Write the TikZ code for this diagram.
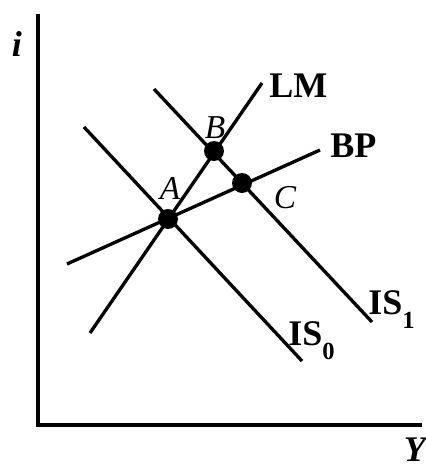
\documentclass[tikz,border=0pt]{standalone}
\usepackage{fontspec}
\setmainfont{Liberation Serif}
\usetikzlibrary{positioning}

\newcommand{\lowidx}[1]{\raisebox{-0.4em}{\fontsize{14}{14}\selectfont #1}}

\begin{document}
\begin{tikzpicture}[
    x=0.02cm, y=-0.02cm,
    curve/.style={line width=1.9pt},
    axis/.style={line width=1.9pt},
    dot/.style={circle, fill, inner sep=0pt, minimum size=0.4cm},
    lbl/.style={font=\fontsize{20.5}{24}\selectfont\bfseries, inner sep=0pt},
    ptlbl/.style={font=\fontsize{19}{22}\selectfont\itshape, inner sep=0pt}
]
\useasboundingbox (0,0) rectangle (426,468);

% axes
\coordinate (ytop) at (38,14);
\coordinate (origin) at (38,425);
\coordinate (xend) at (422,425);
\draw[axis] (ytop) -- (origin) -- (xend);
\node[lbl, font=\fontsize{20.5}{24}\selectfont\bfseries\itshape, anchor=base] (ilabel) at (17,56) {i};
\node[lbl, font=\fontsize{20.5}{24}\selectfont\bfseries\itshape, anchor=base] (ylabel) at (415,461) {Y};

% curves
\coordinate (lm1) at (90,333);
\coordinate (lm2) at (262,83);
\coordinate (bp1) at (67,264);
\coordinate (bp2) at (320,150);
\coordinate (is0a) at (84,127);
\coordinate (is0b) at (302,361);
\coordinate (is1a) at (154,89);
\coordinate (is1b) at (372,322);

\draw[curve] (lm1) -- (lm2);
\draw[curve] (bp1) -- (bp2);
\draw[curve] (is0a) -- (is0b);
\draw[curve] (is1a) -- (is1b);

\node[lbl, anchor=base west] (lm) at (269,97) {LM};
\node[lbl, anchor=base west] (bp) at (330,157) {BP};
\node[lbl, anchor=base west] (is0) at (288,345) {IS\lowidx{0}};
\node[lbl, anchor=base west] (is1) at (368,314) {IS\lowidx{1}};

% equilibria
\node[dot] (dotA) at (168,219) {};
\node[dot] (dotB) at (214,151) {};
\node[dot] (dotC) at (242,183) {};
\node[ptlbl] (A) at (170,188) {A};
\node[ptlbl] (B) at (215,128) {B};
\node[ptlbl] (C) at (285,198) {C};
\end{tikzpicture}
\end{document}
